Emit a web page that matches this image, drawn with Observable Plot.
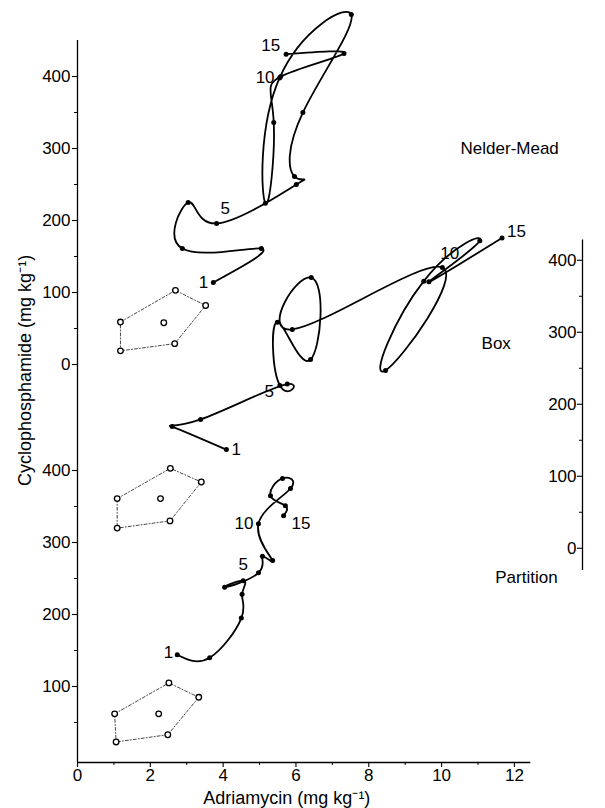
<!DOCTYPE html>
<html><head><meta charset="utf-8">
<script src="https://cdn.jsdelivr.net/npm/d3@7"></script>
<script src="https://cdn.jsdelivr.net/npm/@observablehq/plot@0.6"></script>
<style>body{margin:0;background:#fff} svg{font-family:"Liberation Sans",Arial,Helvetica,sans-serif}</style>
</head><body><div id="chart"></div>
<script>
// Three stacked panels share one x axis; each panel's own y axis is shifted in a common virtual scale
const NM_OFF = 547.2, BOX_OFF = 292, PART_OFF = 0;

// Nelder-Mead path (Adriamycin, Cyclophosphamide), steps 1..15
const nmX = [3.73,5.05,2.88,3.04,3.82,6.01,5.96,6.19,7.52,5.55,5.16,5.39,5.58,7.32,5.73];
const nmY = [114,161,161,225,196,250,261,350,486,398,224,336,400,432,431];
// Box path
const boxX = [4.09,2.60,3.38,5.76,5.56,5.49,6.40,6.42,5.90,10.02,8.46,9.51,11.05,9.65,11.66];
const boxY = [137,169,179,228,226,314,262,376,304,390,247,371,427,370,431];
// Partition path
const partX = [2.74,3.63,4.50,4.52,4.55,4.04,4.97,5.08,5.36,4.97,5.85,5.63,5.30,5.71,5.66];
const partY = [144,140,195,228,247,238,258,281,275,326,375,389,365,351,337];

// Initial designs (dotted polygons): left, top, right, bottom-right, bottom-left, then centre
const nmPolyX = [1.18,2.69,3.52,2.67,1.18], nmPolyY = [59,103,82,29,19];
const nmCentre = [2.37, 58];
const boxPolyX = [1.09,2.55,3.40,2.54,1.09], boxPolyY = [69,111,92,38,28];
const boxCentre = [2.28, 69];
const partPolyX = [1.02,2.51,3.33,2.48,1.06], partPolyY = [62,105,85,33,23];
const partCentre = [2.23, 62];

// Axis ticks
const xTicks = [0,2,4,6,8,10,12];
const xMinor = [1,3,5,7,9,11];
const nmTicks = [0,100,200,300,400];
const nmMinor = [50,150,250,350];
const partTicks = [100,200,300,400];
const partMinor = [50,150,250,350];
const boxTicks = [0,100,200,300,400];
const boxMinor = [50,150,250,350];

const panelNames = ["Nelder-Mead","Box","Partition"];
const panelNameX = [11.87, 11.5, 12.33];
const panelNameY = [300, 284, 251];

const XR = 13.87;          // right frame edge = Box axis
const Y0 = -5.56;          // bottom frame edge = x axis
const KX = 36.4, KY = 0.72; // px per unit, for tick lengths

const pts = (xs, ys, off) => xs.map((x,i) => ({x, v: ys[i] + off, step: i+1}));
const nm = pts(nmX, nmY, NM_OFF), box = pts(boxX, boxY, BOX_OFF), part = pts(partX, partY, PART_OFF);
const poly = (xs, ys, off) => { const p = pts(xs, ys, off); return [...p, p[0]]; };
const polys = [poly(nmPolyX,nmPolyY,NM_OFF), poly(boxPolyX,boxPolyY,BOX_OFF), poly(partPolyX,partPolyY,PART_OFF)];
const polyVerts = polys.flatMap(p => p.slice(0,5));
const centres = [[...nmCentre, NM_OFF],[...boxCentre, BOX_OFF],[...partCentre, PART_OFF]].map(([x,y,o]) => ({x, v: y+o}));

const leftMajor = [...nmTicks.map(t => ({v: t + NM_OFF, t})), ...partTicks.map(t => ({v: t + PART_OFF, t}))];
const leftMinor = [...nmMinor.map(t => t + NM_OFF), ...partMinor.map(t => t + PART_OFF)];

// step labels: [data, step, text, dx, dy, anchor]
const stepLabels = [
  [nm,1,"1",-5,0,"end"],[nm,5,"5",4,-15,"start"],[nm,10,"10",-5,0,"end"],[nm,15,"15",-6,-9,"end"],
  [box,1,"1",5,0,"start"],[box,5,"5",-6,6,"end"],[box,10,"10",-2,-14,"start"],[box,15,"15",5,-6,"start"],
  [part,1,"1",-4,-2,"end"],[part,5,"5",0,-16,"middle"],[part,10,"10",-5,0,"end"],[part,15,"15",8,8,"start"]
];

const FS = 17;
const marks = [
  // axis lines
  Plot.ruleX([0], {y1: Y0, y2: 450 + NM_OFF, strokeWidth: 1.3}),
  Plot.ruleY([Y0], {x1: 0, x2: 12.45, strokeWidth: 1.3}),
  Plot.ruleX([XR], {y1: -31 + BOX_OFF, y2: 428 + BOX_OFF, strokeWidth: 1.3}),
  // left axis ticks and labels
  Plot.ruleY(leftMajor, {y: "v", x1: -5/KX, x2: 0, strokeWidth: 1.1}),
  Plot.ruleY(leftMinor, {y: d => d, x1: -3/KX, x2: 0, strokeWidth: 1}),
  Plot.text(leftMajor, {x: 0, y: "v", text: d => String(d.t), textAnchor: "end", dx: -7, fontSize: FS}),
  // x axis ticks and labels
  Plot.ruleX(xTicks, {x: d => d, y1: Y0, y2: Y0 - 5/KY, strokeWidth: 1.1}),
  Plot.ruleX(xMinor, {x: d => d, y1: Y0, y2: Y0 - 3/KY, strokeWidth: 1}),
  Plot.text(xTicks, {x: d => d, y: Y0, text: d => String(d), lineAnchor: "top", dy: 6, fontSize: FS}),
  // right (Box) axis
  Plot.ruleY(boxTicks, {y: d => d + BOX_OFF, x1: XR - 5/KX, x2: XR, strokeWidth: 1.1}),
  Plot.ruleY(boxMinor, {y: d => d + BOX_OFF, x1: XR - 3/KX, x2: XR}),
  Plot.text(boxTicks, {x: XR, y: d => d + BOX_OFF, text: d => String(d), textAnchor: "end", dx: -6, fontSize: FS}),
  // axis titles
  Plot.text(["Cyclophosphamide (mg kg⁻¹)"], {x: 0, y: 539, rotate: -90, dx: -52, fontSize: 18}),
  Plot.text(["Adriamycin (mg kg⁻¹)"], {x: 5.75, y: Y0, dy: 36, fontSize: 18}),
  // initial designs
  ...polys.map(p => Plot.line(p, {x: "x", y: "v", stroke: "#333", strokeWidth: 0.9, strokeDasharray: "3,2,1,2"})),
  Plot.dot(polyVerts, {x: "x", y: "v", r: 2.8, stroke: "black", strokeWidth: 1.3, fill: "white"}),
  Plot.dot(centres, {x: "x", y: "v", r: 2.8, stroke: "black", strokeWidth: 1.3, fill: "white"}),
  // optimisation paths
  ...[nm, box, part].map(d => Plot.line(d, {x: "x", y: "v", curve: "natural", stroke: "black", strokeWidth: 1.8})),
  ...[nm, box, part].map(d => Plot.dot(d, {x: "x", y: "v", r: 2.5, fill: "black"})),
  ...stepLabels.map(([d, s, t, dx, dy, a]) => Plot.text([d[s-1]], {x: "x", y: "v", text: () => t, dx, dy, textAnchor: a, fontSize: 17})),
  // panel names
  Plot.text(panelNames, {x: (d,i) => panelNameX[i], y: (d,i) => panelNameY[i] + [NM_OFF, BOX_OFF, PART_OFF][i], text: d => d, fontSize: 17})
];

const chart = Plot.plot({
  width: 605, height: 808,
  marginLeft: 77, marginRight: 23, marginTop: 0, marginBottom: 46,
  x: {domain: [0, XR], axis: null},
  y: {domain: [Y0, 1052.78], axis: null},
  style: {fontFamily: '"Liberation Sans", Arial, Helvetica, sans-serif', color: "black", background: "white"},
  marks
});
document.getElementById("chart").appendChild(chart);
</script>
</body></html>
